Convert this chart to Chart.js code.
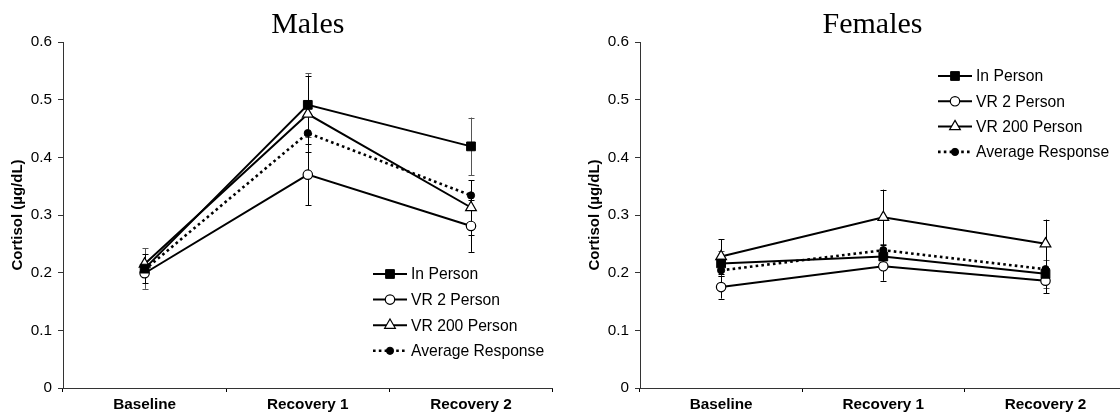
<!DOCTYPE html>
<html>
<head>
<meta charset="utf-8">
<script src="https://cdn.jsdelivr.net/npm/chart.js@4"></script>
<style>
  html, body { margin: 0; padding: 0; background: #fff; overflow: hidden; }
  body { width: 1120px; height: 413px; position: relative; }
  canvas { position: absolute; top: 0; }
  #malesChart { left: 0; }
  #femalesChart { left: 577px; }
</style>
</head>
<body>
<canvas id="malesChart" width="560" height="413"></canvas>
<canvas id="femalesChart" width="557" height="413"></canvas>
<script>
const categories = ["Baseline", "Recovery 1", "Recovery 2"];
const seriesNames = ["In Person", "VR 2 Person", "VR 200 Person", "Average Response"];
const yAxisLabel = "Cortisol (µg/dL)";

// Males
const malesInPerson = [0.207, 0.491, 0.419];
const malesInPersonErr = [0.035, 0.055, 0.05];
const malesVR2 = [0.199, 0.370, 0.281];
const malesVR2Err = [0.017, 0.053, 0.045];
const malesVR200 = [0.215, 0.475, 0.313];
const malesVR200Err = [0.017, 0.066, 0.047];
const malesAverage = [0.205, 0.442, 0.334];

// Females
const femalesInPerson = [0.216, 0.228, 0.198];
const femalesInPersonErr = [0.022, 0.022, 0.024];
const femalesVR2 = [0.175, 0.211, 0.186];
const femalesVR2Err = [0.02, 0.025, 0.022];
const femalesVR200 = [0.228, 0.296, 0.250];
const femalesVR200Err = [0.03, 0.048, 0.042];
const femalesAverage = [0.204, 0.239, 0.206];

const SANS = "'Liberation Sans', Arial, sans-serif";
const SERIF = "'Liberation Serif', 'Times New Roman', serif";

// error bars drawn behind the markers
const errorBarPlugin = {
  id: "errorBars",
  beforeDatasetsDraw(chart) {
    const ctx = chart.ctx;
    const yScale = chart.scales.y;
    chart.data.datasets.forEach((ds, i) => {
      if (!ds.errors) return;
      const meta = chart.getDatasetMeta(i);
      ctx.save();
      ctx.strokeStyle = ds.errorColor || "#000";
      ctx.lineWidth = 1;
      meta.data.forEach((pt, j) => {
        const e = ds.errors[j];
        const top = yScale.getPixelForValue(ds.data[j] + e);
        const bot = yScale.getPixelForValue(ds.data[j] - e);
        const x = Math.round(pt.x) + 0.5;
        ctx.beginPath();
        ctx.moveTo(x, top);
        ctx.lineTo(x, bot);
        ctx.moveTo(x - 3, Math.round(top) + 0.5);
        ctx.lineTo(x + 3, Math.round(top) + 0.5);
        ctx.moveTo(x - 3, Math.round(bot) + 0.5);
        ctx.lineTo(x + 3, Math.round(bot) + 0.5);
        ctx.stroke();
      });
      ctx.restore();
    });
  },
};

// chart title in serif, like the original
const titlePlugin = {
  id: "serifTitle",
  afterDraw(chart, args, opts) {
    const ctx = chart.ctx;
    const area = chart.chartArea;
    ctx.save();
    ctx.font = "30px " + SERIF;
    ctx.fillStyle = "#000";
    ctx.textAlign = "center";
    ctx.textBaseline = "alphabetic";
    const x = opts.x !== undefined ? opts.x : (area.left + area.right) / 2;
    ctx.fillText(opts.text, x, 33);
    ctx.restore();
  },
};

// legend with line samples and markers
const sideLegendPlugin = {
  id: "sideLegend",
  afterDraw(chart, args, opts) {
    const ctx = chart.ctx;
    chart.data.datasets.forEach((ds, i) => {
      const y = opts.y + i * opts.rowGap;
      const x0 = opts.x;
      const x1 = opts.x + 34;
      ctx.save();
      ctx.strokeStyle = "#000";
      ctx.lineWidth = ds.borderWidth;
      ctx.setLineDash(ds.borderDash || []);
      ctx.beginPath();
      ctx.moveTo(x0, y);
      ctx.lineTo(x1, y);
      ctx.stroke();
      ctx.setLineDash([]);
      ctx.fillStyle = ds.pointBackgroundColor;
      ctx.strokeStyle = "#000";
      ctx.lineWidth = ds.pointBorderWidth;
      Chart.helpers.drawPoint(ctx, {
        pointStyle: ds.pointStyle,
        radius: ds.pointRadius,
        rotation: 0,
        borderWidth: ds.pointBorderWidth,
      }, (x0 + x1) / 2, y);
      ctx.font = "15.7px " + SANS;
      ctx.fillStyle = "#000";
      ctx.textBaseline = "middle";
      ctx.textAlign = "left";
      ctx.fillText(ds.label, x1 + 4, y + 1);
      ctx.restore();
    });
  },
};

function makeDatasets(inPerson, inPersonErr, vr2, vr2Err, vr200, vr200Err, average) {
  return [
    {
      label: seriesNames[0],
      data: inPerson,
      errors: inPersonErr,
      errorColor: "#555",
      borderColor: "#000",
      borderWidth: 2,
      pointStyle: "rect",
      pointRadius: 6.2,
      pointBackgroundColor: "#000",
      pointBorderColor: "#000",
      pointBorderWidth: 1,
    },
    {
      label: seriesNames[1],
      data: vr2,
      errors: vr2Err,
      errorColor: "#000",
      borderColor: "#000",
      borderWidth: 2,
      pointStyle: "circle",
      pointRadius: 4.7,
      pointBackgroundColor: "#fff",
      pointBorderColor: "#000",
      pointBorderWidth: 1.2,
    },
    {
      label: seriesNames[2],
      data: vr200,
      errors: vr200Err,
      errorColor: "#000",
      borderColor: "#000",
      borderWidth: 2,
      pointStyle: "triangle",
      pointRadius: 6.2,
      pointBackgroundColor: "#fff",
      pointBorderColor: "#000",
      pointBorderWidth: 1.2,
    },
    {
      label: seriesNames[3],
      data: average,
      borderColor: "#000",
      borderWidth: 2.6,
      borderDash: [2.6, 3.2],
      pointStyle: "circle",
      pointRadius: 3.6,
      pointBackgroundColor: "#000",
      pointBorderColor: "#000",
      pointBorderWidth: 1,
    },
  ];
}

function createChart(canvasId, datasets, title, legendPos) {
  const ctx = document.getElementById(canvasId).getContext("2d");
  return new Chart(ctx, {
    type: "line",
    data: { labels: categories, datasets: datasets },
    options: {
      responsive: false,
      animation: false,
      layout: { padding: { top: 42, right: 7, left: 0, bottom: 0 } },
      elements: { line: { tension: 0 } },
      scales: {
        x: {
          type: "category",
          offset: true,
          grid: { offset: true, drawOnChartArea: false, tickLength: 4, color: "#000" },
          border: { color: "#333", width: 1 },
          ticks: {
            font: { family: SANS, size: 15.3, weight: "bold" },
            color: "#000",
            padding: 4,
            maxRotation: 0,
            autoSkip: false,
          },
          afterFit: (s) => { s.height = 25; },
        },
        y: {
          min: 0,
          max: 0.6,
          ticks: {
            stepSize: 0.1,
            font: { family: SANS, size: 15.3 },
            color: "#000",
            padding: 6,
          },
          grid: { drawOnChartArea: false, tickLength: 5, color: "#333" },
          border: { color: "#333", width: 1 },
          title: {
            display: true,
            text: yAxisLabel,
            font: { family: SANS, size: 15, weight: "bold" },
            color: "#000",
            padding: { top: 9, bottom: 0 },
          },
          afterFit: (s) => { s.width = 63; },
        },
      },
      plugins: {
        legend: { display: false },
        tooltip: { enabled: false },
        serifTitle: title,
        sideLegend: legendPos,
      },
    },
    plugins: [errorBarPlugin, titlePlugin, sideLegendPlugin],
  });
}

createChart(
  "malesChart",
  makeDatasets(malesInPerson, malesInPersonErr, malesVR2, malesVR2Err, malesVR200, malesVR200Err, malesAverage),
  { text: "Males" },
  { x: 373, y: 274, rowGap: 25.6 }
);

createChart(
  "femalesChart",
  makeDatasets(femalesInPerson, femalesInPersonErr, femalesVR2, femalesVR2Err, femalesVR200, femalesVR200Err, femalesAverage),
  { text: "Females", x: 872.5 - 577 },
  { x: 938 - 577, y: 76, rowGap: 25.3 }
);
</script>
</body>
</html>
